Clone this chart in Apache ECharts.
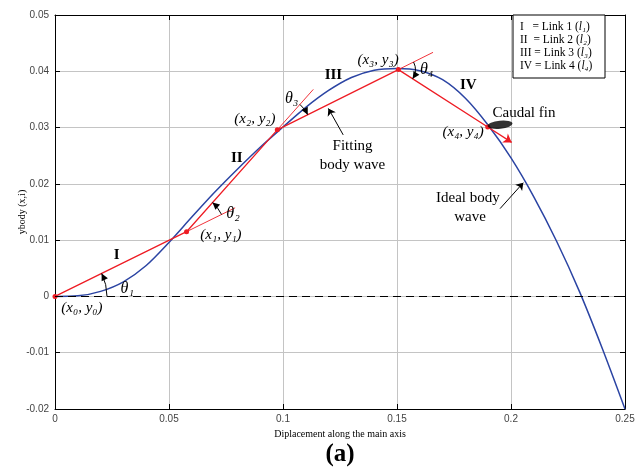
<!DOCTYPE html>
<html>
<head>
<meta charset="utf-8">
<script src="https://cdn.jsdelivr.net/npm/echarts@6/dist/echarts.min.js"></script>
<style>
  html, body { margin: 0; padding: 0; background: #fff; }
  #main { width: 642px; height: 470px; }
</style>
</head>
<body>
<div id="main"></div>
<script>
// ideal body wave, every 0.01 along the axis
const waveX = [0, 0.01, 0.02, 0.03, 0.04, 0.05, 0.06, 0.07, 0.08, 0.09, 0.10, 0.11, 0.12,
  0.13, 0.14, 0.15, 0.16, 0.17, 0.18, 0.19, 0.20, 0.21, 0.22, 0.23, 0.24, 0.25]
const waveY = [0, 0.0001, 0.0009, 0.0026, 0.0055, 0.0096, 0.0141, 0.0185, 0.0226, 0.0265, 0.0301,
  0.0336, 0.0366, 0.0389, 0.0402, 0.0405, 0.0401, 0.0385, 0.0352, 0.0304, 0.0246, 0.0177, 0.0098,
  0.0009, -0.0092, -0.0200]

// fitted links: joints (x0,y0) .. (x4,y4)
const jointX = [0, 0.0577, 0.0975, 0.1506, 0.1898]
const jointY = [0, 0.0115, 0.0296, 0.0403, 0.0301]
// where each link's thin continuation stops (the last one is the arrow)
const extendX = [0.079, 0.1133, 0.1658, 0.2003]

const xTicks = [0, 0.05, 0.1, 0.15, 0.2, 0.25]
const yTicks = [-0.02, -0.01, 0, 0.01, 0.02, 0.03, 0.04, 0.05]

const legendRows = [
  ['I   = Link 1 (', 'l₁'],
  ['II  = Link 2 (', 'l₂'],
  ['III = Link 3 (', 'l₃'],
  ['IV = Link 4 (', 'l₄']
]

const red = '#ee1c24', blue = '#2b44a3'
const serif = 'Liberation Serif'
const arcRadius = [52, 39, 34, 17]

const linkSlope = jointX.slice(0, 4).map((x, i) => (jointY[i + 1] - jointY[i]) / (jointX[i + 1] - x))
const extSegs = extendX.map((ex, i) => {
  const x0 = jointX[i + 1], y0 = jointY[i + 1]
  return { coords: [[x0, y0], [ex, y0 + (ex - x0) * linkSlope[i]]] }
})

function angleMark(params, api) {
  const vx = api.value(0), vy = api.value(1), k = api.value(2)
  const c = api.coord([vx, vy])
  const dir = s => {
    const p = api.coord([vx + 0.01, vy + 0.01 * s])
    return Math.atan2(p[1] - c[1], p[0] - c[0])
  }
  const a0 = dir(k === 0 ? 0 : linkSlope[k - 1])
  const a1 = dir(linkSlope[k])
  const r = arcRadius[k]
  const sg = a1 > a0 ? 1 : -1
  const tip = [c[0] + r * Math.cos(a1), c[1] + r * Math.sin(a1)]
  const t = [-Math.sin(a1) * sg, Math.cos(a1) * sg]
  const n = [-t[1], t[0]]
  const b = [tip[0] - t[0] * 7, tip[1] - t[1] * 7]
  return {
    type: 'group',
    children: [
      { type: 'arc', shape: { cx: c[0], cy: c[1], r, startAngle: Math.min(a0, a1), endAngle: Math.max(a0, a1), clockwise: true },
        style: { stroke: '#000', fill: 'none', lineWidth: 1 } },
      { type: 'polygon', shape: { points: [tip, [b[0] + n[0] * 3.5, b[1] + n[1] * 3.5], [b[0] - n[0] * 3.5, b[1] - n[1] * 3.5]] },
        style: { fill: '#000' } }
    ]
  }
}

const axisCommon = {
  type: 'value',
  axisLine: { show: true, onZero: false, lineStyle: { color: '#000', width: 1 } },
  axisTick: { show: true, inside: true, length: 5, lineStyle: { color: '#000' } },
  axisLabel: { color: '#444', fontFamily: 'Liberation Sans', fontSize: 10 }
}

const chart = echarts.init(document.getElementById('main'))
chart.setOption({
  animation: false,
  backgroundColor: '#fff',
  grid: { left: 55, right: 17, top: 15, bottom: 61, outerBoundsMode: 'none' },
  xAxis: [
    { ...axisCommon, min: xTicks[0], max: xTicks[xTicks.length - 1], interval: 0.05,
      splitLine: { show: true, lineStyle: { color: '#c4c4c4' } },
      axisLabel: { ...axisCommon.axisLabel, margin: 5 },
      name: 'Diplacement along the main axis', nameLocation: 'middle', nameGap: 15,
      nameTextStyle: { fontFamily: serif, fontSize: 10, color: '#000' } },
    { ...axisCommon, position: 'top', min: xTicks[0], max: xTicks[xTicks.length - 1], interval: 0.05,
      splitLine: { show: false }, axisLabel: { show: false } }
  ],
  yAxis: [
    { ...axisCommon, min: yTicks[0], max: yTicks[yTicks.length - 1], interval: 0.01,
      splitLine: { show: true, lineStyle: { color: '#c4c4c4' } },
      axisLabel: { ...axisCommon.axisLabel, margin: 6 },
      name: 'ybody (x,i)', nameLocation: 'middle', nameGap: 28, nameMoveOverlap: false,
      nameTextStyle: { fontFamily: serif, fontSize: 10, color: '#000' } },
    { ...axisCommon, position: 'right', min: yTicks[0], max: yTicks[yTicks.length - 1], interval: 0.01,
      splitLine: { show: false }, axisLabel: { show: false } }
  ],
  series: [
    {
      name: 'Ideal body wave', type: 'line', smooth: 0.3, showSymbol: false,
      data: waveX.map((x, i) => [x, waveY[i]]),
      lineStyle: { color: blue, width: 1.5 },
      markLine: {
        silent: true, symbol: 'none', label: { show: false },
        lineStyle: { color: '#000', type: [8, 5], width: 1.2 },
        data: [{ yAxis: 0 }]
      },
      z: 3
    },
    {
      name: 'Fitting body wave', type: 'line', symbol: 'circle', symbolSize: 5,
      data: jointX.map((x, i) => [x, jointY[i]]),
      lineStyle: { color: red, width: 1.3 }, itemStyle: { color: red }, z: 4
    },
    {
      type: 'lines', coordinateSystem: 'cartesian2d', symbol: 'none',
      data: extSegs.slice(0, 3), lineStyle: { color: red, width: 0.9, opacity: 1 }, z: 4
    },
    {
      type: 'lines', coordinateSystem: 'cartesian2d', symbol: ['none', 'arrow'], symbolSize: 8,
      data: extSegs.slice(3), lineStyle: { color: red, width: 1.3, opacity: 1 }, z: 4
    },
    {
      type: 'lines', coordinateSystem: 'cartesian2d', symbol: ['none', 'arrow'], symbolSize: 7,
      data: [
        { coords: [[0.1264, 0.0287], [0.1199, 0.0334]] },
        { coords: [[0.1952, 0.0156], [0.2054, 0.0202]] }
      ],
      lineStyle: { color: '#000', width: 1, opacity: 1 }, z: 5
    },
    {
      type: 'scatter', symbol: 'circle', symbolSize: [25, 8], symbolRotate: 6,
      data: [[0.1952, 0.0305]], itemStyle: { color: '#000' }, z: 6
    },
    {
      type: 'custom', renderItem: angleMark, z: 6,
      data: jointX.slice(0, 4).map((x, i) => [x, jointY[i], i])
    }
  ]
})

// text notes placed in data units
const notes = [
  ['(x₀, y₀)', 0.0118, -0.0021, 'pt'],
  ['(x₁, y₁)', 0.0728, 0.0109, 'pt'],
  ['(x₂, y₂)', 0.0877, 0.0316, 'pt'],
  ['(x₃, y₃)', 0.1417, 0.0420, 'pt'],
  ['(x₄, y₄)', 0.1790, 0.0292, 'pt'],
  ['θ₁', 0.0317, 0.0013, 'th'],
  ['θ₂', 0.0781, 0.0147, 'th'],
  ['θ₃', 0.1038, 0.0352, 'th'],
  ['θ₄', 0.1630, 0.0403, 'th'],
  ['I', 0.0270, 0.0074, 'bd'],
  ['II', 0.0797, 0.0245, 'bd'],
  ['III', 0.1221, 0.0393, 'bd'],
  ['IV', 0.1813, 0.0375, 'bd'],
  ['Caudal fin', 0.2057, 0.0326, 'tx'],
  ['Fitting', 0.1305, 0.0267, 'tx'],
  ['body wave', 0.1305, 0.0233, 'tx'],
  ['Ideal body', 0.1811, 0.0174, 'tx'],
  ['wave', 0.1820, 0.0141, 'tx']
]
const noteFont = {
  pt: { fontSize: 15, fontStyle: 'italic' },
  th: { fontSize: 16, fontStyle: 'italic' },
  bd: { fontSize: 15, fontWeight: 'bold' },
  tx: { fontSize: 15 }
}
const px = (x, y) => chart.convertToPixel({ gridIndex: 0 }, [x, y])

const graphics = notes.map(([text, x, y, kind]) => {
  const p = px(x, y)
  return {
    type: 'text', x: p[0], y: p[1], z: 20,
    style: { text, fontFamily: serif, fill: '#000', align: 'center', verticalAlign: 'middle', ...noteFont[kind] }
  }
})

// legend box in the upper right corner
graphics.push({
  type: 'rect', z: 20,
  shape: { x: 513, y: 15, width: 92, height: 63 },
  style: { fill: '#fff', stroke: '#000', lineWidth: 1 }
})
legendRows.forEach((row, i) => {
  graphics.push({
    type: 'text', x: 520, y: 27 + i * 13, z: 21,
    style: {
      text: `{r|${row[0]}}{i|${row[1]}}{r|)}`,
      verticalAlign: 'middle',
      rich: {
        r: { fontFamily: serif, fontSize: 11.5, fill: '#000' },
        i: { fontFamily: serif, fontSize: 11.5, fontStyle: 'italic', fill: '#000' }
      }
    }
  })
})

const mid = px(0.125, 0)
graphics.push({
  type: 'text', x: mid[0], y: 455, z: 20,
  style: { text: '(a)', fontFamily: serif, fontWeight: 'bold', fontSize: 25, fill: '#000', align: 'center', verticalAlign: 'middle' }
})

chart.setOption({ graphic: graphics })
</script>
</body>
</html>
